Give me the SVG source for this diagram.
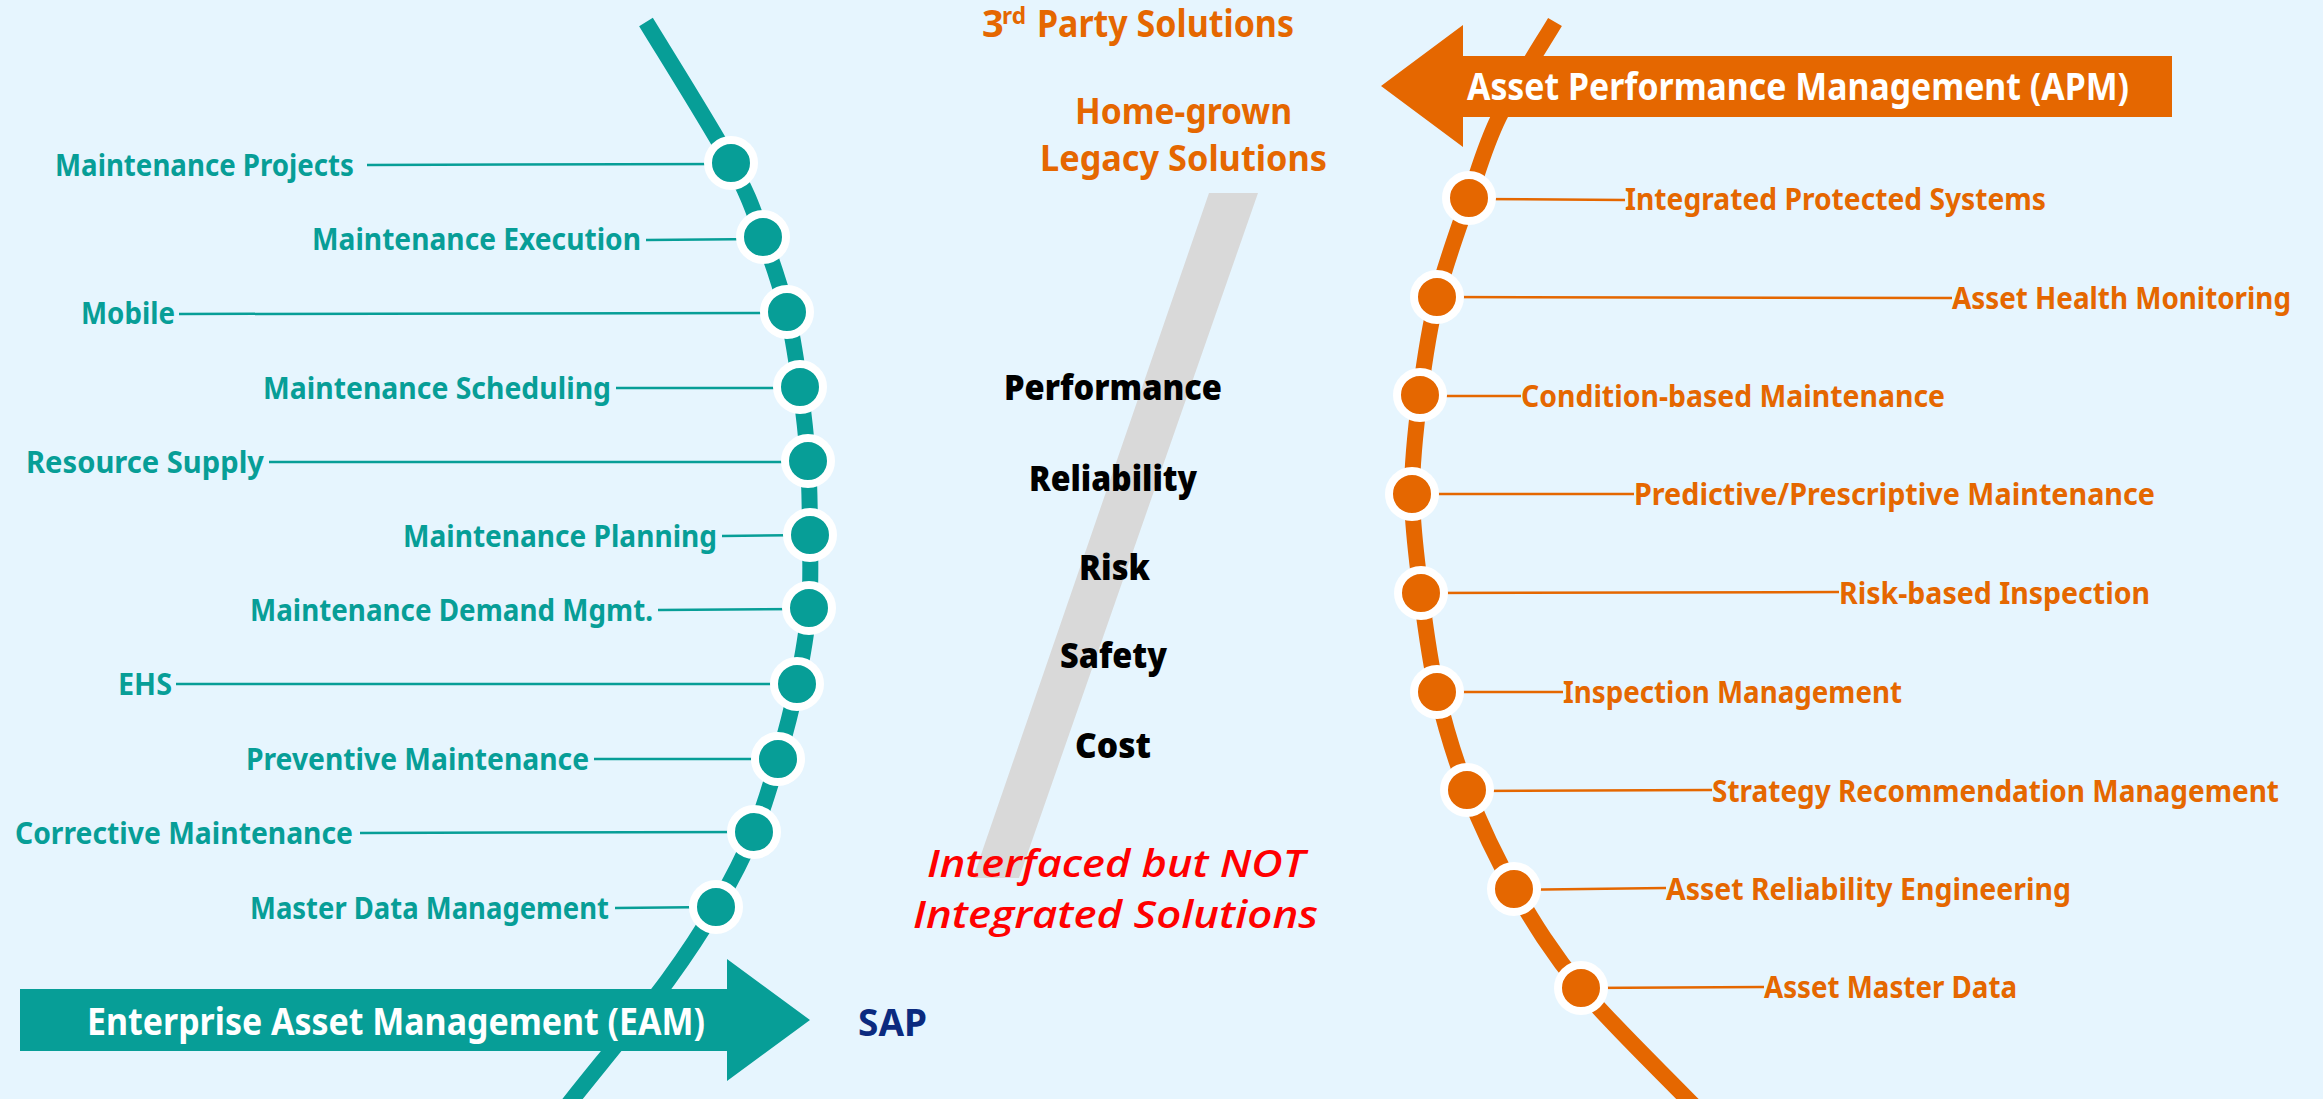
<svg xmlns="http://www.w3.org/2000/svg" width="2323" height="1099" viewBox="0 0 2323 1099">
<style>
.bg{fill:#E6F5FE}
.arcT{fill:none;stroke:#079E97;stroke-width:16}
.arcO{fill:none;stroke:#E56700;stroke-width:16}
.dotT{fill:#079E97;stroke:#FFFFFF;stroke-width:8}
.dotO{fill:#E56700;stroke:#FFFFFF;stroke-width:8}
.lnT{stroke:#079E97;stroke-width:2.5;fill:none}
.lnO{stroke:#E56700;stroke-width:2.5;fill:none}
.lbl{font-family:"Noto Sans","Open Sans","Liberation Sans",sans-serif;font-weight:700;font-size:30px}
.tT{fill:#079E97}
.tO{fill:#E56700}
.big{font-family:"Noto Sans","Open Sans","Liberation Sans",sans-serif;font-weight:700;font-size:38px}
.mid{font-family:"Noto Sans","Open Sans","Liberation Sans",sans-serif;font-weight:700;font-size:35px}
.kpi{font-family:"Open Sans","Noto Sans","Liberation Sans",sans-serif;font-weight:800;font-size:36px;fill:#000000}
.red{font-family:"Open Sans","Noto Sans","Liberation Sans",sans-serif;font-style:italic;font-weight:600;font-size:37px;fill:#FF0000}
</style>
<rect class="bg" x="0" y="0" width="2323" height="1099"/>

<polygon id="band" points="1209,193 1258,193 1019,878 973,878" fill="#D9D9D9"/>

<g id="timelines">
<path class="arcT" d="M646,22 C660.2,45.5 711.5,127.2 731,163 C750.5,198.8 753.7,212.2 763,237 C772.3,261.8 780.8,287 787,312 C793.2,337 796.5,362.2 800,387 C803.5,411.8 806.3,436.3 808,461 C809.7,485.7 809.8,510.5 810,535 C810.2,559.5 811.2,583.2 809,608 C806.8,632.8 802.2,658.8 797,684 C791.8,709.2 785.2,734.3 778,759 C770.8,783.7 764.3,807.3 754,832 C743.7,856.7 730.3,882.3 716,907 C701.7,931.7 685.3,956.2 668,980 C650.7,1003.8 628,1030.2 612,1050 C596,1069.8 578.7,1090.8 560,1115"/>
<path class="arcO" d="M1555,22 C1545.7,37.8 1513.3,87.7 1499,117 C1484.7,146.3 1479.3,168 1469,198 C1458.7,228 1445.2,264.2 1437,297 C1428.8,329.8 1424.2,362.2 1420,395 C1415.8,427.8 1411.8,461 1412,494 C1412.2,527 1416.8,560 1421,593 C1425.2,626 1429.3,659.2 1437,692 C1444.7,724.8 1454.2,757.2 1467,790 C1479.8,822.8 1495,856 1514,889 C1533,922 1552,953 1581,988 C1610,1023 1670.2,1080.5 1700,1112"/>
</g>

<g id="connectors">
<line class="lnT" x1="367" y1="165" x2="731" y2="164"/>
<line class="lnT" x1="646" y1="240" x2="763" y2="239"/>
<line class="lnT" x1="179" y1="314" x2="787" y2="313"/>
<line class="lnT" x1="616" y1="388" x2="800" y2="388"/>
<line class="lnT" x1="269" y1="462" x2="808" y2="462"/>
<line class="lnT" x1="722" y1="536" x2="810" y2="535"/>
<line class="lnT" x1="658" y1="610" x2="809" y2="609"/>
<line class="lnT" x1="176" y1="684" x2="797" y2="684"/>
<line class="lnT" x1="594" y1="759" x2="778" y2="759"/>
<line class="lnT" x1="360" y1="833" x2="754" y2="832"/>
<line class="lnT" x1="615" y1="908" x2="716" y2="907"/>
<line class="lnO" x1="1469" y1="199" x2="1625" y2="200"/>
<line class="lnO" x1="1437" y1="297" x2="1952" y2="298"/>
<line class="lnO" x1="1420" y1="396" x2="1521" y2="396"/>
<line class="lnO" x1="1412" y1="494" x2="1634" y2="494"/>
<line class="lnO" x1="1421" y1="593" x2="1839" y2="592"/>
<line class="lnO" x1="1437" y1="692" x2="1563" y2="692"/>
<line class="lnO" x1="1467" y1="791" x2="1712" y2="790"/>
<line class="lnO" x1="1514" y1="890" x2="1666" y2="888"/>
<line class="lnO" x1="1581" y1="988" x2="1764" y2="987"/>
</g>

<g id="eam-maintenance-projects"><circle class="dotT" cx="731" cy="163" r="23"/><text class="lbl tT" x="55" y="176" textLength="299" lengthAdjust="spacingAndGlyphs">Maintenance Projects</text></g>
<g id="eam-maintenance-execution"><circle class="dotT" cx="763" cy="237" r="23"/><text class="lbl tT" x="312" y="250" textLength="329" lengthAdjust="spacingAndGlyphs">Maintenance Execution</text></g>
<g id="eam-mobile"><circle class="dotT" cx="787" cy="312" r="23"/><text class="lbl tT" x="81" y="324" textLength="94" lengthAdjust="spacingAndGlyphs">Mobile</text></g>
<g id="eam-maintenance-scheduling"><circle class="dotT" cx="800" cy="387" r="23"/><text class="lbl tT" x="263" y="399" textLength="348" lengthAdjust="spacingAndGlyphs">Maintenance Scheduling</text></g>
<g id="eam-resource-supply"><circle class="dotT" cx="808" cy="461" r="23"/><text class="lbl tT" x="26" y="473" textLength="238" lengthAdjust="spacingAndGlyphs">Resource Supply</text></g>
<g id="eam-maintenance-planning"><circle class="dotT" cx="810" cy="535" r="23"/><text class="lbl tT" x="403" y="547" textLength="314" lengthAdjust="spacingAndGlyphs">Maintenance Planning</text></g>
<g id="eam-maintenance-demand"><circle class="dotT" cx="809" cy="608" r="23"/><text class="lbl tT" x="250" y="621" textLength="403" lengthAdjust="spacingAndGlyphs">Maintenance Demand Mgmt.</text></g>
<g id="eam-ehs"><circle class="dotT" cx="797" cy="684" r="23"/><text class="lbl tT" x="118" y="695" textLength="54" lengthAdjust="spacingAndGlyphs">EHS</text></g>
<g id="eam-preventive"><circle class="dotT" cx="778" cy="759" r="23"/><text class="lbl tT" x="246" y="770" textLength="343" lengthAdjust="spacingAndGlyphs">Preventive Maintenance</text></g>
<g id="eam-corrective"><circle class="dotT" cx="754" cy="832" r="23"/><text class="lbl tT" x="15" y="844" textLength="338" lengthAdjust="spacingAndGlyphs">Corrective Maintenance</text></g>
<g id="eam-master-data"><circle class="dotT" cx="716" cy="907" r="23"/><text class="lbl tT" x="250" y="919" textLength="359" lengthAdjust="spacingAndGlyphs">Master Data Management</text></g>

<g id="apm-integrated-protected"><circle class="dotO" cx="1469" cy="198" r="23"/><text class="lbl tO" x="1625" y="210" textLength="421" lengthAdjust="spacingAndGlyphs">Integrated Protected Systems</text></g>
<g id="apm-asset-health"><circle class="dotO" cx="1437" cy="297" r="23"/><text class="lbl tO" x="1952" y="309" textLength="339" lengthAdjust="spacingAndGlyphs">Asset Health Monitoring</text></g>
<g id="apm-condition-based"><circle class="dotO" cx="1420" cy="395" r="23"/><text class="lbl tO" x="1521" y="407" textLength="424" lengthAdjust="spacingAndGlyphs">Condition-based Maintenance</text></g>
<g id="apm-predictive"><circle class="dotO" cx="1412" cy="494" r="23"/><text class="lbl tO" x="1634" y="505" textLength="521" lengthAdjust="spacingAndGlyphs">Predictive/Prescriptive Maintenance</text></g>
<g id="apm-risk-based"><circle class="dotO" cx="1421" cy="593" r="23"/><text class="lbl tO" x="1839" y="604" textLength="311" lengthAdjust="spacingAndGlyphs">Risk-based Inspection</text></g>
<g id="apm-inspection"><circle class="dotO" cx="1437" cy="692" r="23"/><text class="lbl tO" x="1563" y="703" textLength="339" lengthAdjust="spacingAndGlyphs">Inspection Management</text></g>
<g id="apm-strategy"><circle class="dotO" cx="1467" cy="790" r="23"/><text class="lbl tO" x="1712" y="802" textLength="567" lengthAdjust="spacingAndGlyphs">Strategy Recommendation Management</text></g>
<g id="apm-reliability-eng"><circle class="dotO" cx="1514" cy="889" r="23"/><text class="lbl tO" x="1666" y="900" textLength="405" lengthAdjust="spacingAndGlyphs">Asset Reliability Engineering</text></g>
<g id="apm-master-data"><circle class="dotO" cx="1581" cy="988" r="23"/><text class="lbl tO" x="1764" y="998" textLength="253" lengthAdjust="spacingAndGlyphs">Asset Master Data</text></g>

<g id="eam-arrow">
<polygon points="20,989 727,989 727,959 810,1020 727,1081 727,1051 20,1051" fill="#079E97"/>
<text class="big" x="87" y="1035" fill="#FFFFFF" textLength="618" lengthAdjust="spacingAndGlyphs">Enterprise Asset Management (EAM)</text>
</g>
<g id="sap"><text class="big" x="858" y="1036" fill="#0B2A7F" font-size="35" textLength="69" lengthAdjust="spacingAndGlyphs">SAP</text></g>

<g id="apm-arrow">
<polygon points="1381,86 1463,25 1463,56 2172,56 2172,117 1463,117 1463,147" fill="#E56700"/>
<text class="big" x="1467" y="100" fill="#FFFFFF" textLength="662" lengthAdjust="spacingAndGlyphs">Asset Performance Management (APM)</text>
</g>

<g id="third-party">
<text class="big tO"><tspan x="982" y="37">3</tspan><tspan x="1002" y="24" font-size="23" textLength="24" lengthAdjust="spacingAndGlyphs">rd</tspan><tspan x="1037" y="37" textLength="257" lengthAdjust="spacingAndGlyphs">Party Solutions</tspan></text>
</g>
<g id="home-grown">
<text class="mid tO" x="1075" y="124" textLength="217" lengthAdjust="spacingAndGlyphs">Home-grown</text>
<text class="mid tO" x="1040" y="171" textLength="287" lengthAdjust="spacingAndGlyphs">Legacy Solutions</text>
</g>

<g id="kpis">
<text class="kpi" x="1004" y="400" textLength="218" lengthAdjust="spacingAndGlyphs">Performance</text>
<text class="kpi" x="1029" y="491" textLength="168" lengthAdjust="spacingAndGlyphs">Reliability</text>
<text class="kpi" x="1079" y="580" textLength="71" lengthAdjust="spacingAndGlyphs">Risk</text>
<text class="kpi" x="1060" y="668" textLength="107" lengthAdjust="spacingAndGlyphs">Safety</text>
<text class="kpi" x="1075" y="758" textLength="76" lengthAdjust="spacingAndGlyphs">Cost</text>
</g>

<g id="interfaced">
<text class="red" x="927" y="877" textLength="378" lengthAdjust="spacingAndGlyphs">Interfaced but NOT</text>
<text class="red" x="913" y="928" textLength="405" lengthAdjust="spacingAndGlyphs">Integrated Solutions</text>
</g>
</svg>
